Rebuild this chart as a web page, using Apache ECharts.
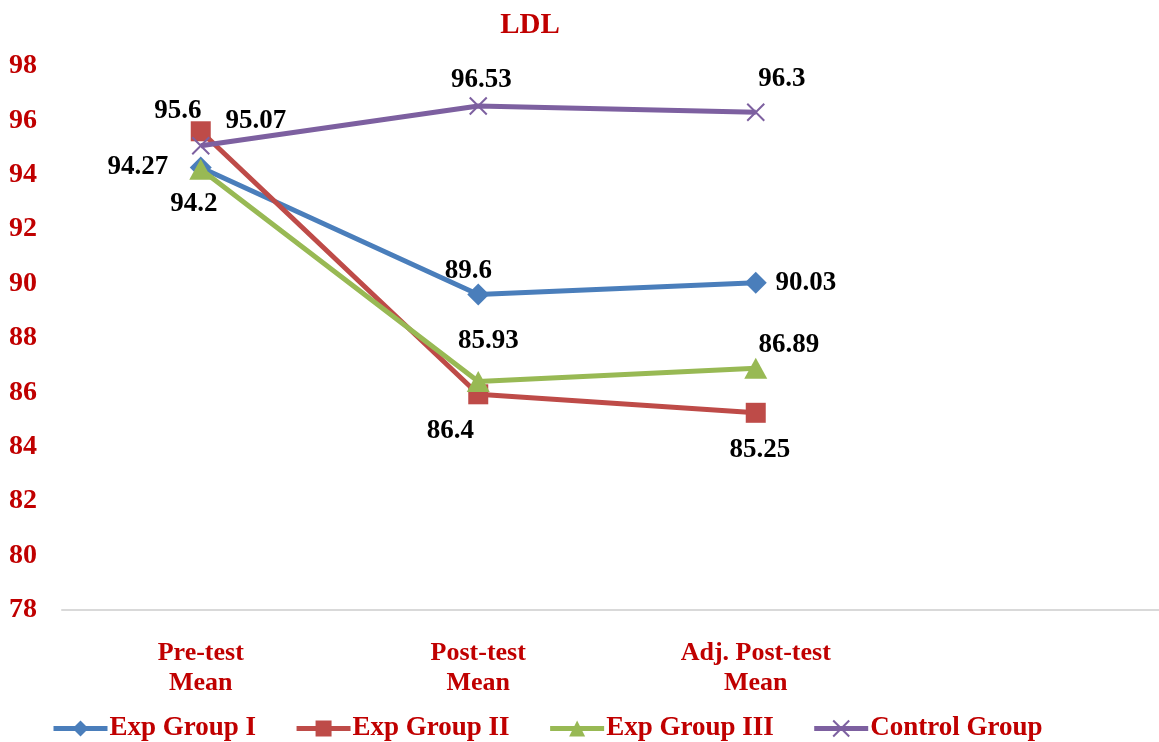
<!DOCTYPE html>
<html>
<head>
<meta charset="utf-8">
<script src="https://cdn.jsdelivr.net/npm/echarts@6/dist/echarts.min.js"></script>
<style>
  html, body { margin: 0; padding: 0; background: #fff; }
  #chart { width: 1159px; height: 742px; }
</style>
</head>
<body>
<div id="chart"></div>
<script>
// data
const categories = ['Pre-test\nMean', 'Post-test\nMean', 'Adj. Post-test\nMean', ''];
const seriesNames = ['Exp Group I', 'Exp Group II', 'Exp Group III', 'Control Group'];
const expGroup1 = [94.27, 89.6, 90.03];
const expGroup2 = [95.6, 85.93, 85.25];
const expGroup3 = [94.2, 86.4, 86.89];
const controlGroup = [95.07, 96.53, 96.3];
const yTicks = { min: 78, max: 98, step: 2 };

// label placement per point (px offsets from marker centre), like the original
const labelOffsets = [
  [[-63, 0], [-10, -23], [50, 0]],
  [[-23, -20], [10, -53], [4, 37]],
  [[-7, 35], [-28, 50], [33, -23]],
  [[55, -25], [3, -26], [26, -33]]
];

const colors = ['#4A7EBB', '#BE4B48', '#98B954', '#7D60A0'];
const symbols = ['diamond', 'rect', 'triangle', 'path://M0,0L10,10M10,0L0,10'];
const symbolSizes = [[22, 22], 20, [23, 21], 17];
const serif = '"Liberation Serif", "Times New Roman", serif';
const darkRed = '#C00000';

const chart = echarts.init(document.getElementById('chart'));

function makeSeries(name, values, i) {
    return {
        name: name,
        type: 'line',
        data: values.map((v, j) => ({
            value: v,
            label: { offset: labelOffsets[i][j] }
        })),
        symbol: symbols[i],
        symbolSize: symbolSizes[i],
        lineStyle: { color: colors[i], width: 5 },
        itemStyle: i === 3
            ? { color: colors[i], borderColor: colors[i], borderWidth: 2 }
            : { color: colors[i] },
        label: {
            show: true,
            position: 'inside',
            color: '#000',
            fontFamily: serif,
            fontWeight: 'bold',
            fontSize: 27
        },
        emphasis: { disabled: true },
        animation: false
    };
}

chart.setOption({
    backgroundColor: '#fff',
    title: {
        text: 'LDL',
        left: 525,
        top: 6,
        textAlign: 'center',
        textStyle: { color: darkRed, fontFamily: serif, fontWeight: 'bold', fontSize: 29 }
    },
    legend: {
        data: seriesNames,
        left: 46,
        top: 710,
        itemWidth: 54,
        itemHeight: 20,
        itemGap: 38,
        lineStyle: { width: 5 },
        textStyle: { color: darkRed, fontFamily: serif, fontWeight: 'bold', fontSize: 27, padding: [0, 0, 0, -3] }
    },
    // the plot runs a bit past the right edge in the original
    grid: { left: 62, top: 66, bottom: 132, right: -13, containLabel: false, outerBoundsMode: 'none' },
    xAxis: {
        type: 'category',
        data: categories,
        boundaryGap: true,
        axisLine: { lineStyle: { color: '#D9D9D9', width: 2 } },
        axisTick: { show: false },
        axisLabel: {
            margin: 28,
            interval: 0,
            color: darkRed,
            fontFamily: serif,
            fontWeight: 'bold',
            fontSize: 26,
            lineHeight: 30
        }
    },
    yAxis: {
        type: 'value',
        min: yTicks.min,
        max: yTicks.max,
        interval: yTicks.step,
        splitLine: { show: false },
        axisLine: { show: false },
        axisTick: { show: false },
        axisLabel: {
            align: 'left',
            margin: 53,
            color: darkRed,
            fontFamily: serif,
            fontWeight: 'bold',
            fontSize: 28
        }
    },
    series: [
        makeSeries(seriesNames[0], expGroup1, 0),
        makeSeries(seriesNames[1], expGroup2, 1),
        makeSeries(seriesNames[2], expGroup3, 2),
        makeSeries(seriesNames[3], controlGroup, 3)
    ]
});
</script>
</body>
</html>
